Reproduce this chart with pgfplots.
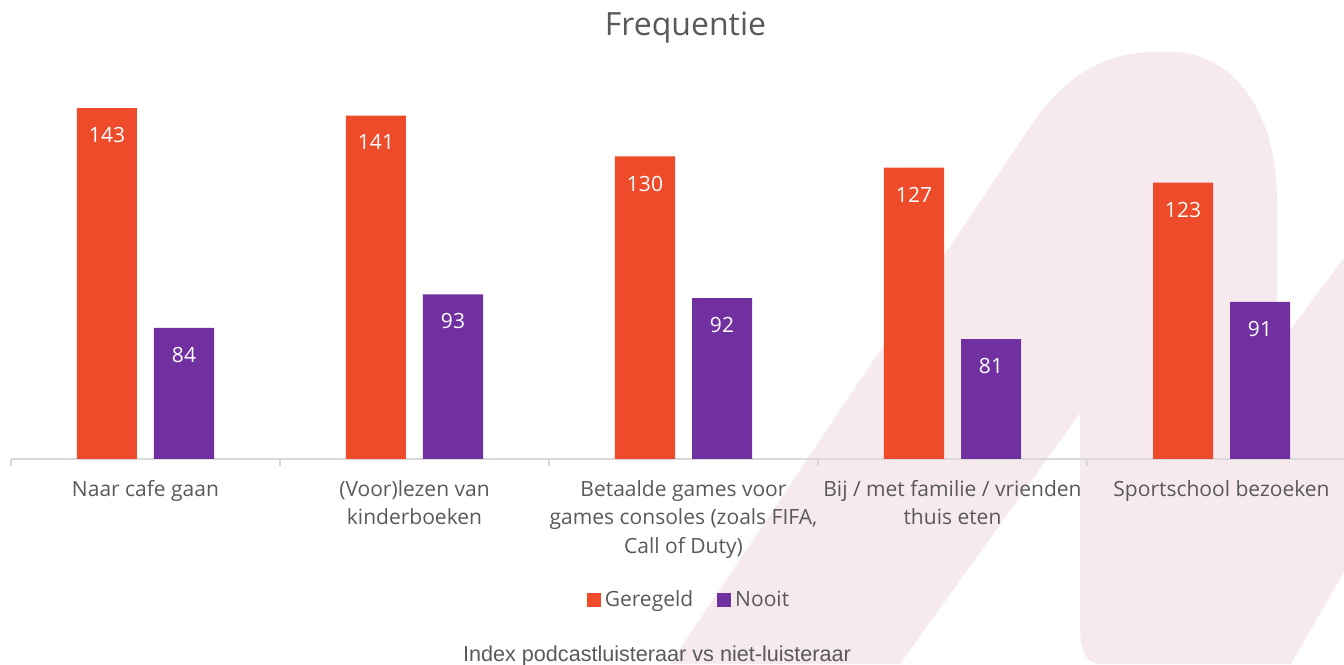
\documentclass[border=0pt]{standalone}
\usepackage{fontspec}
\setmainfont{Open Sans}
\newfontfamily\arialfont{Liberation Sans}
\usepackage{pgfplots}
\pgfplotsset{compat=1.18}
\definecolor{barorange}{RGB}{238,75,43}
\definecolor{barpurple}{RGB}{112,48,160}
\definecolor{txtgray}{RGB}{89,89,89}
\definecolor{axisgray}{RGB}{217,217,217}
\definecolor{wmpink}{RGB}{246,234,238}

\begin{document}
\begin{tikzpicture}
\path[use as bounding box] (0,0) rectangle (672pt,332pt);
\clip (0,0) rectangle (672pt,332pt);

% background logo watermark, image pixels (y down)
\begin{scope}[x=0.5pt, y=-0.5pt, shift={(0pt,332pt)}]
\fill[wmpink] (670,664) -- (1028,130)
  .. controls (1075,58) and (1125,50) .. (1175,52)
  .. controls (1240,56) and (1277,120) .. (1277,200)
  -- (1277,348) -- (1344,258) -- (1344,572) -- (1291,664)
  -- (1100,664) .. controls (1086,664) and (1080,650) .. (1080,625)
  -- (1080,413) -- (900,664) -- cycle;
\end{scope}

\begin{axis}[
  at={(5.5pt,102.5pt)}, anchor=south west,
  scale only axis,
  width=672.5pt, height=188.5pt,
  ybar=8.5pt, bar width=30pt,
  xmin=-0.5, xmax=4.5,
  ymin=48.8, ymax=150,
  axis x line=bottom, axis y line=none,
  axis line style={-, draw=axisgray, line width=1pt},
  xtick={0,1,2,3,4},
  xticklabels={{Naar cafe gaan},{(Voor)lezen van\\kinderboeken},{Betaalde games voor\\games consoles (zoals FIFA,\\Call of Duty)},{Bij / met familie / vrienden\\thuis eten},{Sportschool bezoeken}},
  xticklabel style={align=center, text=txtgray, font=\fontsize{10.5}{14.25}\selectfont, yshift=-7pt},
  major tick length=0pt,
  minor xtick={-0.5,0.5,1.5,2.5,3.5,4.5},
  minor tick length=3.5pt,
  tick align=outside,
  minor tick style={draw=axisgray, line width=0.8pt},
  /pgf/number format/assume math mode=true,
  nodes near coords,
  every node near coord/.append style={anchor=north, yshift=-9.5pt, inner sep=0pt, text=white, font=\fontsize{10.5}{12}\selectfont},
  legend style={at={(0.5048,-0.374)}, anchor=center, legend columns=2, draw=none, fill=none,
    font=\fontsize{10.5}{12}\selectfont, text=txtgray,
    /tikz/every even column/.append style={column sep=10pt}},
  legend image code/.code={\fill[#1] (0pt,-3.5pt) rectangle (7pt,3.5pt);},
  clip=false,
]
\addplot[fill=barorange, draw=none] coordinates {(0,143) (1,141) (2,130) (3,127) (4,123)};
\addplot[fill=barpurple, draw=none] coordinates {(0,84) (1,93) (2,92) (3,81) (4,91)};
\legend{Geregeld, Nooit}
\end{axis}

\node[anchor=base, text=txtgray, font=\fontsize{16}{18}\selectfont] at (342.75pt,314pt) {Frequentie};
\node[anchor=base, text=txtgray, font=\arialfont\fontsize{10.8}{12}\selectfont] at (328.5pt,1.5pt) {Index podcastluisteraar vs niet-luisteraar};
\end{tikzpicture}
\end{document}
